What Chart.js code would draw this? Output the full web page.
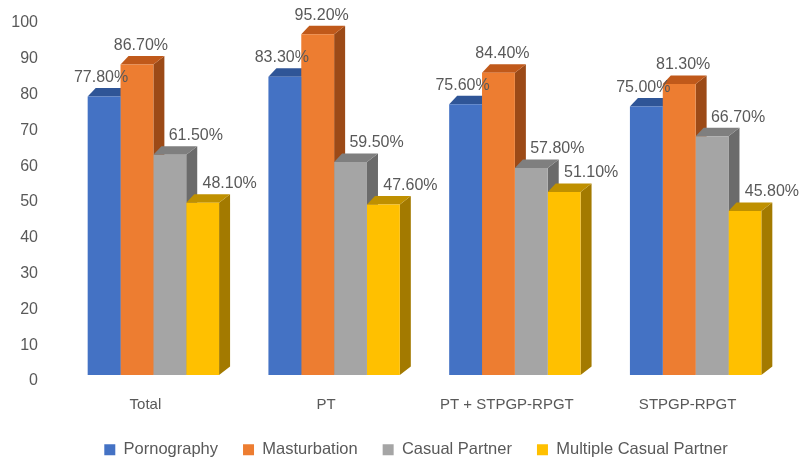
<!DOCTYPE html>
<html>
<head>
<meta charset="utf-8">
<script src="https://cdn.jsdelivr.net/npm/chart.js@4.4.1/dist/chart.umd.min.js"></script>
<style>
  html, body { margin: 0; padding: 0; background: #fff; }
  #wrap { width: 799px; height: 461px; }
</style>
</head>
<body>
<div id="wrap"><canvas id="chart"></canvas></div>
<script>
// data
const categories = ['Total', 'PT', 'PT + STPGP-RPGT', 'STPGP-RPGT'];
const seriesNames = ['Pornography', 'Masturbation', 'Casual Partner', 'Multiple Casual Partner'];
const pornography = [77.8, 83.3, 75.6, 75.0];
const masturbation = [86.7, 95.2, 84.4, 81.3];
const casualPartner = [61.5, 59.5, 57.8, 66.7];
const multiplePartner = [48.1, 47.6, 51.1, 45.8];
const yTicks = [0, 10, 20, 30, 40, 50, 60, 70, 80, 90, 100];

// face colours: front, top, side
const fronts = ['#4472C4', '#ED7D31', '#A5A5A5', '#FFC000'];
const tops = ['#2F5597', '#C0591A', '#7F7F7F', '#BF9000'];
const sides = ['#2B4C86', '#9C4A17', '#6B6B6B', '#A37A00'];
const labelShift = [-3, 4, 26, 27]; // excel nudges the labels of the short bars aside

const textColor = '#595959';
const font = '"Liberation Sans", Arial, sans-serif';

// draws the depth of each bar (top + side) before the fronts are painted
const bars3d = {
  id: 'bars3d',
  afterLayout(chart) {
    // legend in the original sits a bit right of the canvas centre
    chart.legend.left += 46;
  },
  beforeDatasetsDraw(chart) {
    const ctx = chart.ctx;
    const dxL = 8, dxR = 11, dy = 8.5;
    const metas = chart.data.datasets.map((d, i) => chart.getDatasetMeta(i));
    ctx.save();
    for (let c = 0; c < categories.length; c++) {
      metas.forEach((meta, s) => {
        const bar = meta.data[c];
        const l = bar.x - bar.width / 2, r = bar.x + bar.width / 2;
        const t = bar.y, b = bar.base;
        // side
        ctx.fillStyle = sides[s];
        ctx.beginPath();
        ctx.moveTo(r, t); ctx.lineTo(r + dxR, t - dy);
        ctx.lineTo(r + dxR, b - dy); ctx.lineTo(r, b);
        ctx.closePath(); ctx.fill();
        // top
        ctx.fillStyle = tops[s];
        ctx.beginPath();
        ctx.moveTo(l, t); ctx.lineTo(l + dxL, t - dy);
        ctx.lineTo(r + dxR, t - dy); ctx.lineTo(r, t);
        ctx.closePath(); ctx.fill();
      });
    }
    ctx.restore();
  },
  afterDatasetsDraw(chart) {
    const ctx = chart.ctx;
    ctx.save();
    ctx.font = '16px ' + font;
    ctx.fillStyle = textColor;
    ctx.textAlign = 'center';
    ctx.textBaseline = 'middle';
    chart.data.datasets.forEach((ds, s) => {
      chart.getDatasetMeta(s).data.forEach((bar, i) => {
        ctx.fillText(ds.data[i].toFixed(2) + '%', bar.x + labelShift[s], bar.y - 19);
      });
    });
    ctx.restore();
  }
};

const values = [pornography, masturbation, casualPartner, multiplePartner];

new Chart(document.getElementById('chart'), {
  type: 'bar',
  data: {
    labels: categories,
    datasets: seriesNames.map((name, i) => ({
      label: name,
      data: values[i],
      backgroundColor: fronts[i],
      borderWidth: 0,
      categoryPercentage: 0.727,
      barPercentage: 1
    }))
  },
  options: {
    responsive: true,
    maintainAspectRatio: false,
    animation: false,
    layout: { padding: { top: 17, right: 13, left: 0, bottom: -7 } },
    plugins: {
      tooltip: { enabled: false },
      legend: {
        position: 'bottom',
        labels: {
          boxWidth: 11,
          boxHeight: 11,
          padding: 25,
          color: textColor,
          font: { family: font, size: 16.5 }
        }
      }
    },
    scales: {
      x: {
        grid: { display: false, drawTicks: false },
        border: { display: false },
        ticks: {
          color: textColor,
          font: { family: font, size: 15 },
          padding: 21,
          labelOffset: -8
        },
        afterFit(scale) { scale.height = 41.5; }
      },
      y: {
        min: 0,
        max: 100,
        grid: { display: false, drawTicks: false },
        border: { display: false },
        afterBuildTicks(scale) { scale.ticks = yTicks.map(v => ({ value: v })); },
        ticks: {
          color: textColor,
          font: { family: font, size: 16 },
          padding: 25,
          labelOffset: 6
        },
        afterFit(scale) {
          scale.width = 63;
          // tick padding would otherwise push the plot top down
          scale.paddingTop = 0;
          scale.paddingBottom = 0;
        }
      }
    }
  },
  plugins: [bars3d]
});
</script>
</body>
</html>
